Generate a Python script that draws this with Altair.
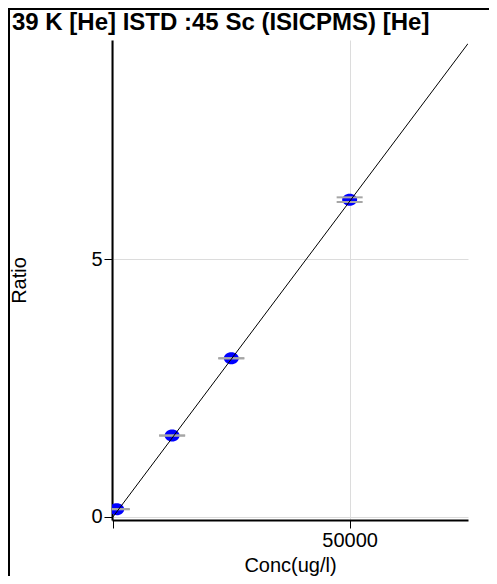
import altair as alt
import pandas as pd

title_text = "39 K [He] ISTD :45 Sc (ISICPMS) [He]"
x_title = "Conc(ug/l)"
y_title = "Ratio"

# calibration standards (concentration, ratio, replicate spread)
conc = [800, 12500, 25000, 50000]
ratio = [0.15, 1.58, 3.08, 6.16]
spread = [0.0, 0.0, 0.0, 0.045]

# fitted calibration line end points
fit_x = [0, 75000]
fit_y = [0.0, 9.19]

x_ticks = [0, 50000]
y_ticks = [0, 5]
x_domain = [-200, 75000]
y_domain = [-0.06, 9.26]

pts = pd.DataFrame({"conc": conc, "ratio": ratio})
ticks = pd.DataFrame({
    "conc": conc + conc,
    "ratio": [r - s for r, s in zip(ratio, spread)] + [r + s for r, s in zip(ratio, spread)],
})
fit = pd.DataFrame({"conc": fit_x, "ratio": fit_y})
one = pd.DataFrame({"label": [title_text]})

FONT = "Liberation Sans"

x_enc = alt.X(
    "conc:Q",
    scale=alt.Scale(domain=x_domain, nice=False, zero=False),
    axis=alt.Axis(
        values=x_ticks,
        title=x_title,
        labelExpr="datum.value == 0 ? '' : datum.label",
        format="d",
        titleY=35,
        titleBaseline="top",
    ),
)
y_enc = alt.Y(
    "ratio:Q",
    scale=alt.Scale(domain=y_domain, nice=False, zero=False),
    axis=alt.Axis(
        values=y_ticks,
        title=y_title,
        titleX=-93,
        titleY=240,
        titleBaseline="middle",
    ),
)

ellipse = "M-1,0A1,0.8,0,1,0,1,0A1,0.8,0,1,0,-1,0Z"

points = alt.Chart(pts).mark_point(
    shape=ellipse, size=225, filled=True, color="#0000FF", opacity=1, clip=True
).encode(x=x_enc, y=y_enc)

err = alt.Chart(ticks).mark_tick(
    orient="horizontal", size=26, thickness=2, color="#a6a6a6", opacity=1, clip=True
).encode(x=x_enc, y=y_enc)

line = alt.Chart(fit).mark_line(color="black", strokeWidth=1, clip=True).encode(
    x=x_enc, y=y_enc
)

frame_left = alt.Chart(one).mark_rule(color="black", strokeWidth=2).encode(
    x=alt.value(-103), y=alt.value(-32), y2=alt.value(536)
)
frame_top = alt.Chart(one).mark_rule(color="black", strokeWidth=2).encode(
    x=alt.value(-104), x2=alt.value(377), y=alt.value(-31)
)

title = alt.Chart(one).mark_text(
    align="left", baseline="alphabetic", font=FONT, fontSize=24,
    fontWeight="bold", color="black",
).encode(x=alt.value(-100), y=alt.value(-10), text="label:N")

chart = (
    alt.layer(points, err, line, frame_left, frame_top, title)
    .properties(
        width=356,
        height=480,
        autosize=alt.AutoSizeParams(type="none"),
        padding={"left": 104, "top": 32, "right": 21, "bottom": 56},
        background="white",
    )
    .configure_view(stroke=None)
    .configure_axis(
        domainColor="black",
        domainWidth=2,
        tickColor="black",
        tickSize=8,
        tickWidth=1,
        gridColor="#dcdcdc",
        gridWidth=1,
        labelFont=FONT,
        labelFontSize=20,
        labelColor="black",
        labelPadding=2,
        titleFont=FONT,
        titleFontSize=20,
        titleFontWeight="normal",
        titleColor="black",
    )
)

chart.save("out.html", embed_options={"renderer": "svg", "actions": False})
